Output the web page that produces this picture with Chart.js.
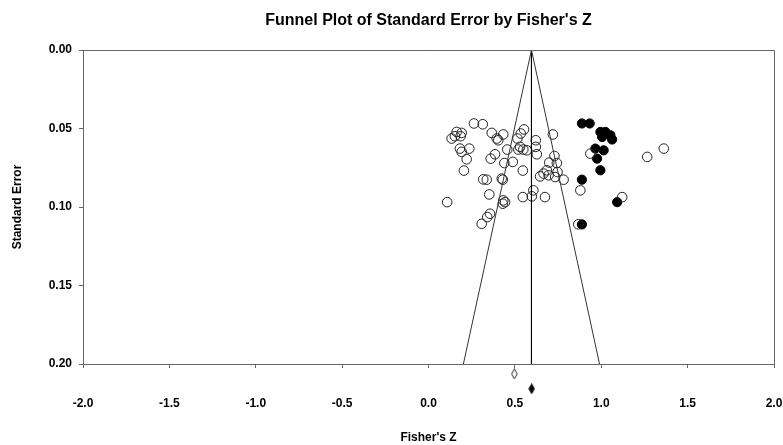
<!DOCTYPE html>
<html>
<head>
<meta charset="utf-8">
<script src="https://cdn.jsdelivr.net/npm/chart.js@4/dist/chart.umd.min.js"></script>
<style>
  html, body { margin: 0; padding: 0; background: #fff; }
  canvas { display: block; }
</style>
</head>
<body>
<canvas id="funil" width="783" height="445"></canvas>
<script>
// estudos (circulos abertos)
const abertoZ = [0.263, 0.314, 0.163, 0.192, 0.134, 0.153, 0.186, 0.366, 0.395, 0.433, 0.404, 0.553, 0.534, 0.515, 0.621, 0.720,
  0.182, 0.192, 0.236, 0.221, 0.205, 0.456, 0.530, 0.549, 0.520, 0.569, 0.621, 0.627, 0.360, 0.385, 0.439, 0.488, 0.546,
  0.729, 0.743, 0.699, 0.685, 0.666, 0.695, 0.646, 0.733, 0.782, 0.747, 0.317, 0.337, 0.424, 0.430, 0.108, 0.352, 0.433,
  0.430, 0.443, 0.546, 0.607, 0.598, 0.674, 0.356, 0.340, 0.308, 0.937, 1.266, 1.362, 0.879, 1.121, 0.867];
const abertoSE = [0.0468, 0.0473, 0.0522, 0.0528, 0.0564, 0.0549, 0.0549, 0.0528, 0.0564, 0.0538, 0.0575, 0.0506, 0.0532, 0.0564, 0.0575, 0.0538,
  0.0628, 0.0649, 0.0628, 0.0696, 0.0768, 0.0634, 0.0617, 0.0634, 0.0634, 0.0639, 0.0617, 0.0664, 0.0692, 0.0664, 0.0720, 0.0713, 0.0768,
  0.0675, 0.0720, 0.0717, 0.0766, 0.0787, 0.0798, 0.0805, 0.0809, 0.0826, 0.0777, 0.0824, 0.0826, 0.0819, 0.0826, 0.0969, 0.0920, 0.0958,
  0.0979, 0.0969, 0.0937, 0.0894, 0.0932, 0.0937, 0.1043, 0.1064, 0.1107, 0.0660, 0.0681, 0.0628, 0.0894, 0.0937, 0.1110];

// estudos imputados (circulos preenchidos)
const cheioZ = [0.888, 0.933, 0.995, 1.024, 1.053, 1.005, 1.063, 0.966, 1.014, 0.976, 0.995, 0.888, 1.092, 0.888];
const cheioSE = [0.0468, 0.0468, 0.0522, 0.0522, 0.0543, 0.0554, 0.0570, 0.0628, 0.0639, 0.0692, 0.0766, 0.0826, 0.0969, 0.1111];

// funil e linha da media
const funilZ = [0.202, 0.596, 0.990];
const funilSE = [0.20, 0.00, 0.20];
const mediaZ = [0.596, 0.596];
const mediaSE = [0.00, 0.20];

// efeitos combinados (losangos abaixo do eixo)
const losangoAbertoZ = [0.497];
const losangoAbertoSE = [0.2063];
const losangoCheioZ = [0.597];
const losangoCheioSE = [0.2158];

const ticksX = [-2.0, -1.5, -1.0, -0.5, 0.0, 0.5, 1.0, 1.5, 2.0];
const ticksY = [0.00, 0.05, 0.10, 0.15, 0.20];

const pares = (xs, ys) => xs.map((x, i) => ({ x: x, y: ys[i] }));

function losango(cheio) {
    const c = document.createElement('canvas');
    c.width = 7;
    c.height = 11;
    const g = c.getContext('2d');
    g.beginPath();
    g.moveTo(3.5, 0.5);
    g.lineTo(6.3, 5.5);
    g.lineTo(3.5, 10.5);
    g.lineTo(0.7, 5.5);
    g.closePath();
    if (cheio) {
        g.fillStyle = '#000';
        g.fill();
    }
    g.strokeStyle = '#222';
    g.lineWidth = 1;
    g.stroke();
    return c;
}

const fonteBold = { family: "'Liberation Sans', Arial, sans-serif", size: 12, weight: 'bold' };

const tituloPlugin = {
    id: 'tituloPlugin',
    afterDatasetsDraw(chart) {
        // losangos ficam abaixo da area do grafico, o chart.js nao desenha la
        const area = { left: 0, top: 0, right: chart.width, bottom: chart.height };
        [4, 5].forEach(i => {
            chart.getDatasetMeta(i).data.forEach(p => p.draw(chart.ctx, area));
        });
    },
    afterDraw(chart) {
        const { ctx, chartArea } = chart;
        ctx.save();
        // moldura superior e direita
        ctx.strokeStyle = '#666';
        ctx.lineWidth = 1;
        ctx.beginPath();
        ctx.moveTo(chartArea.left, Math.round(chartArea.top) + 0.5);
        ctx.lineTo(Math.round(chartArea.right) + 0.5, Math.round(chartArea.top) + 0.5);
        ctx.lineTo(Math.round(chartArea.right) + 0.5, chartArea.bottom);
        ctx.stroke();
        ctx.fillStyle = '#000';
        ctx.font = "bold 16px 'Liberation Sans', Arial, sans-serif";
        ctx.textAlign = 'center';
        ctx.textBaseline = 'alphabetic';
        ctx.fillText("Funnel Plot of Standard Error by Fisher's Z", (chartArea.left + chartArea.right) / 2, 25);
        ctx.restore();
    }
};

const ctx = document.getElementById('funil').getContext('2d');

new Chart(ctx, {
    type: 'scatter',
    data: {
        datasets: [
            {
                type: 'line',
                data: pares(funilZ, funilSE),
                borderColor: '#333',
                borderWidth: 1,
                pointRadius: 0,
                fill: false,
                tension: 0
            },
            {
                type: 'line',
                data: pares(mediaZ, mediaSE),
                borderColor: '#000',
                borderWidth: 1,
                pointRadius: 0,
                fill: false
            },
            {
                data: pares(abertoZ, abertoSE),
                pointStyle: 'circle',
                pointRadius: 4.8,
                borderColor: '#222',
                borderWidth: 1,
                backgroundColor: 'rgba(0,0,0,0)'
            },
            {
                data: pares(cheioZ, cheioSE),
                pointStyle: 'circle',
                pointRadius: 4.6,
                borderColor: '#000',
                borderWidth: 1,
                backgroundColor: '#000'
            },
            {
                data: pares(losangoAbertoZ, losangoAbertoSE),
                pointStyle: losango(false),
                pointRadius: 5,
                clip: false
            },
            {
                data: pares(losangoCheioZ, losangoCheioSE),
                pointStyle: losango(true),
                pointRadius: 5,
                clip: false
            }
        ]
    },
    options: {
        responsive: false,
        animation: false,
        devicePixelRatio: 1,
        layout: { padding: { left: 0, right: 9, top: 50, bottom: 0 } },
        plugins: {
            legend: { display: false },
            tooltip: { enabled: false }
        },
        scales: {
            x: {
                type: 'linear',
                min: -2,
                max: 2,
                afterBuildTicks: (s) => { s.ticks = ticksX.map(v => ({ value: v })); },
                afterFit: (s) => {
                    s.height = 81;
                    s.paddingLeft = 0;
                    s.paddingRight = 0;
                },
                ticks: {
                    color: '#000',
                    font: fonteBold,
                    padding: 28,
                    maxRotation: 0,
                    callback: (v) => Number(v).toFixed(1)
                },
                grid: { drawOnChartArea: false, tickLength: 4, color: '#666' },
                border: { color: '#666', width: 1 },
                title: {
                    display: true,
                    text: "Fisher's Z",
                    color: '#000',
                    font: fonteBold,
                    padding: { top: 0, bottom: 0 }
                }
            },
            y: {
                type: 'linear',
                reverse: true,
                min: 0,
                max: 0.2,
                afterBuildTicks: (s) => { s.ticks = ticksY.map(v => ({ value: v })); },
                afterFit: (s) => {
                    s.width = 83;
                    s.paddingTop = 0;
                    s.paddingBottom = 0;
                },
                ticks: {
                    color: '#000',
                    font: fonteBold,
                    padding: 7,
                    callback: (v) => Number(v).toFixed(2)
                },
                grid: { drawOnChartArea: false, tickLength: 4, color: '#666' },
                border: { color: '#666', width: 1 },
                title: {
                    display: true,
                    text: 'Standard Error',
                    color: '#000',
                    font: fonteBold,
                    padding: { top: 10, bottom: 0 }
                }
            }
        }
    },
    plugins: [tituloPlugin]
});
</script>
</body>
</html>
